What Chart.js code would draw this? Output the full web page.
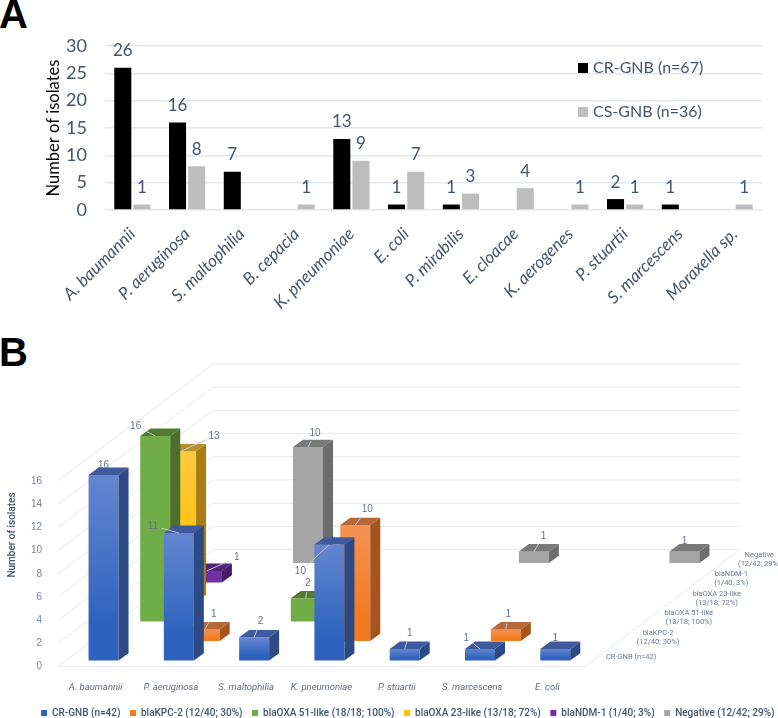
<!DOCTYPE html>
<html>
<head>
<meta charset="utf-8">
<script src="https://cdn.jsdelivr.net/npm/chart.js@4"></script>
<style>
    html, body { margin: 0; padding: 0; background: #fff; }
    body { position: relative; width: 778px; height: 718px; overflow: hidden; }
    canvas { position: absolute; left: 0; }
    .panel { position: absolute; font: bold 40px "Liberation Sans", sans-serif; color: #000; line-height: 40px; }
</style>
</head>
<body>
<div class="panel" style="left:-1px;top:-6px">A</div>
<div class="panel" style="left:-1px;top:332px">B</div>
<canvas id="chartA" width="778" height="335" style="top:0"></canvas>
<canvas id="chartB" width="784" height="393" style="top:335px"></canvas>
<script>
const speciesA = ['A. baumannii', 'P. aeruginosa', 'S. maltophilia', 'B. cepacia', 'K. pneumoniae', 'E. coli',
    'P. mirabilis', 'E. cloacae', 'K. aerogenes', 'P. stuartii', 'S. marcescens', 'Moraxella sp.'];
const crGnbA = [26, 16, 7, null, 13, 1, 1, null, null, 2, 1, null];
const csGnbA = [1, 8, null, 1, 9, 7, 3, 4, 1, 1, null, 1];

const speciesB = ['A. baumannii', 'P. aeruginosa', 'S. maltophilia', 'K. pneumoniae', 'P. stuartii', 'S. marcescens', 'E. coli'];
const crGnbB = [16, 11, 2, 10, 1, 1, 1];
const kpc2 = [null, 1, null, 10, null, 1, null];
const oxa51 = [16, null, 2, null, null, null, null];
const oxa23 = [13, null, null, null, null, null, null];
const ndm1 = [1, null, null, null, null, null, null];
const negative = [null, 10, null, null, 1, null, 1];

const legendB = ['CR-GNB (n=42)', 'blaKPC-2 (12/40; 30%)', 'blaOXA 51-like (18/18; 100%)',
    'blaOXA 23-like (13/18; 72%)', 'blaNDM-1 (1/40; 3%)', 'Negative (12/42; 29%)'];
const depthLabels = [['CR-GNB (n=42)'], ['blaKPC-2', '(12/40; 30%)'], ['blaOXA 51-like', '(18/18; 100%)'],
    ['blaOXA 23-like', '(13/18; 72%)'], ['blaNDM-1', '(1/40; 3%)'], ['Negative', '(12/42; 29%)']];

const slate = '#44546A';

// front top, front bottom, side, roof
const prismColors = [
    ['#6486CE', '#2D63BE', '#2E4A85', '#3F5A9C'],
    ['#F49355', '#F37A1F', '#A4541C', '#B5693B'],
    ['#70AD47', '#70AD47', '#4B6F2D', '#537A31'],
    ['#FFC940', '#FFC000', '#A67E14', '#B8902C'],
    ['#7030A0', '#7030A0', '#451C66', '#54237A'],
    ['#A5A5A5', '#A5A5A5', '#6C6C6C', '#797979'],
];

// floor depth of the 3d box and depth of one bar
const floorX = 155, floorY = 117, barDepthX = 10, barDepthY = 7.3;
// gap between the floor's edge and each depth label
const depthLabelGaps = [8, 13, 15, 17, 13, 11];

// where a value label sits from the middle of its bar's front top edge: dx, dy, leader line
const labelOffsets = {
    '0:0': [0, -10, 0], '0:1': [-26, -7, 1], '0:2': [6.5, -16, 1], '0:3': [-29, 27, 1],
    '0:4': [5, -16, 1], '0:5': [-13.7, -11, 1], '0:6': [0, -11, 0],
    '1:1': [9, -15, 1], '1:3': [12, -16, 1], '1:5': [2.5, -15, 1],
    '2:0': [-19.6, -10, 1], '2:2': [2, -15, 1],
    '3:0': [33, -15, 1],
    '4:0': [30, -13.5, 1],
    '5:1': [7, -14, 1], '5:4': [9.7, -15, 1], '5:6': [0, -10, 0],
};

const valueLabelsA = {
    id: 'valueLabelsA',
    afterDatasetsDraw(chart) {
        const ctx = chart.ctx;
        ctx.save();
        ctx.font = '17px Lato';
        ctx.fillStyle = slate;
        ctx.textAlign = 'center';
        ctx.textBaseline = 'middle';
        chart.data.datasets.forEach((dataset, i) => {
            chart.getDatasetMeta(i).data.forEach((bar, j) => {
                if (dataset.data[j] === null) return;
                ctx.fillText(dataset.data[j], bar.x, bar.y - 17);
            });
        });
        ctx.restore();
    }
};

const legendA = {
    id: 'legendA',
    afterDraw(chart) {
        const ctx = chart.ctx;
        ctx.save();
        ctx.font = '16px Lato';
        ctx.textBaseline = 'middle';
        chart.data.datasets.forEach((dataset, i) => {
            const y = 68 + i * 44;
            ctx.fillStyle = dataset.backgroundColor;
            ctx.fillRect(578, y - 5, 10, 10);
            ctx.fillStyle = slate;
            ctx.fillText(dataset.label, 593, y);
        });
        ctx.restore();
    }
};

function drawWalls(chart, ctx) {
    const area = chart.chartArea;
    const yScale = chart.scales.y;
    ctx.strokeStyle = '#E6E9EF';
    ctx.lineWidth = 1;
    yScale.ticks.forEach(tick => {
        const y = yScale.getPixelForValue(tick.value);
        ctx.beginPath();
        ctx.moveTo(area.left, y);
        ctx.lineTo(area.left + floorX, y - floorY);
        ctx.lineTo(area.right + floorX, y - floorY);
        ctx.stroke();
    });
    const y0 = yScale.getPixelForValue(0);
    ctx.beginPath();
    ctx.moveTo(area.left, y0);
    ctx.lineTo(area.right, y0);
    ctx.lineTo(area.right + floorX, y0 - floorY);
    ctx.stroke();
}

function drawPrism(ctx, x, top, width, bottom, colors) {
    const front = ctx.createLinearGradient(0, top, 0, bottom);
    front.addColorStop(0, colors[0]);
    front.addColorStop(0.8, colors[1]);
    ctx.fillStyle = front;
    ctx.fillRect(x, top, width, bottom - top);

    ctx.fillStyle = colors[2];
    ctx.beginPath();
    ctx.moveTo(x + width, top);
    ctx.lineTo(x + width + barDepthX, top - barDepthY);
    ctx.lineTo(x + width + barDepthX, bottom - barDepthY);
    ctx.lineTo(x + width, bottom);
    ctx.closePath();
    ctx.fill();

    ctx.fillStyle = colors[3];
    ctx.beginPath();
    ctx.moveTo(x, top);
    ctx.lineTo(x + barDepthX, top - barDepthY);
    ctx.lineTo(x + width + barDepthX, top - barDepthY);
    ctx.lineTo(x + width, top);
    ctx.closePath();
    ctx.fill();
}

function depthOffset(i) {
    const count = depthLabels.length;
    const stepX = floorX / count, stepY = floorY / count;
    return {
        x: stepX * i + (stepX - barDepthX) / 2,
        y: stepY * i + (stepY - barDepthY) / 2,
    };
}

function drawValueLabel(ctx, value, x, y, offset) {
    const textX = x + offset[0], textY = y + offset[1];
    if (offset[2]) {
        const len = Math.hypot(offset[0], offset[1]);
        ctx.strokeStyle = '#C6CBD3';
        ctx.lineWidth = 1;
        ctx.beginPath();
        ctx.moveTo(x, y);
        ctx.lineTo(textX - offset[0] / len * 9, textY - offset[1] / len * 9);
        ctx.stroke();
    }
    ctx.fillStyle = '#65748A';
    ctx.font = '10px "Liberation Sans"';
    ctx.textAlign = 'center';
    ctx.textBaseline = 'middle';
    ctx.fillText(value, textX, textY);
}

const prisms = {
    id: 'prisms',
    beforeDatasetsDraw(chart) {
        const ctx = chart.ctx;
        ctx.save();
        drawWalls(chart, ctx);
        const datasets = chart.data.datasets;
        for (let i = datasets.length - 1; i >= 0; i--) {
            const off = depthOffset(i);
            chart.getDatasetMeta(i).data.forEach((bar, j) => {
                if (datasets[i].data[j] === null) return;
                drawPrism(ctx, bar.x - bar.width / 2 + off.x, bar.y - off.y, bar.width, bar.base - off.y, prismColors[i]);
            });
        }
        datasets.forEach((dataset, i) => {
            const off = depthOffset(i);
            chart.getDatasetMeta(i).data.forEach((bar, j) => {
                if (dataset.data[j] === null) return;
                drawValueLabel(ctx, dataset.data[j], bar.x + off.x, bar.y - off.y, labelOffsets[i + ':' + j]);
            });
        });
        ctx.restore();
        return false;
    },
    afterDraw(chart) {
        const ctx = chart.ctx;
        const area = chart.chartArea;
        const y0 = chart.scales.y.getPixelForValue(0);
        ctx.save();
        ctx.fillStyle = '#6B7A8F';
        ctx.font = '7.5px Roboto';
        ctx.textAlign = 'center';
        ctx.textBaseline = 'middle';
        depthLabels.forEach((lines, i) => {
            const stepX = floorX / depthLabels.length, stepY = floorY / depthLabels.length;
            const width = Math.max(...lines.map(line => ctx.measureText(line).width));
            const x = area.right + stepX * (i + 0.5) + depthLabelGaps[i] + width / 2;
            const y = y0 - stepY * (i + 0.5);
            lines.forEach((line, k) => {
                ctx.fillText(line, x, y + (k - (lines.length - 1) / 2) * 9);
            });
        });
        ctx.translate(12, 200);
        ctx.rotate(-Math.PI / 2);
        ctx.fillStyle = slate;
        ctx.font = '500 10px Roboto';
        ctx.fillText('Number of isolates', 0, 0);
        ctx.restore();
    }
};

new Chart(document.getElementById('chartA').getContext('2d'), {
    type: 'bar',
    data: {
        labels: speciesA,
        datasets: [
            { label: 'CR-GNB (n=67)', data: crGnbA, backgroundColor: '#000000' },
            { label: 'CS-GNB (n=36)', data: csGnbA, backgroundColor: '#BDBDBD' },
        ]
    },
    options: {
        responsive: false,
        animation: false,
        categoryPercentage: 0.7,
        barPercentage: 0.89,
        layout: { padding: { left: 44, right: 16, top: 46, bottom: 0 } },
        plugins: {
            legend: { display: false },
            tooltip: { enabled: false },
        },
        scales: {
            x: {
                grid: { display: false },
                border: { display: false },
                ticks: {
                    autoSkip: false,
                    minRotation: 45,
                    maxRotation: 45,
                    padding: 6,
                    color: slate,
                    font: { family: 'Lato', size: 17, style: 'italic' },
                },
                afterFit(scale) { scale.height = 125; },
            },
            y: {
                min: 0,
                max: 30,
                grid: { color: '#E3E7EE', lineWidth: 1.5, drawTicks: false },
                border: { display: false },
                ticks: {
                    stepSize: 5,
                    padding: 18,
                    color: slate,
                    font: { family: 'Lato', size: 18 },
                },
                title: {
                    display: true,
                    text: 'Number of isolates',
                    color: '#000',
                    padding: 0,
                    font: { family: 'Lato', size: 16.5 },
                },
                afterFit(scale) { scale.width = 61; },
            },
        },
    },
    plugins: [valueLabelsA, legendA],
});

const seriesB = [crGnbB, kpc2, oxa51, oxa23, ndm1, negative];
new Chart(document.getElementById('chartB').getContext('2d'), {
    type: 'bar',
    data: {
        labels: speciesB,
        datasets: seriesB.map((values, i) => ({
            label: legendB[i],
            data: values,
            backgroundColor: prismColors[i][1],
            grouped: false,
            barThickness: 30,
        }))
    },
    options: {
        responsive: false,
        animation: false,
        layout: { padding: { left: 0, right: 0, top: 146, bottom: 0 } },
        plugins: {
            tooltip: { enabled: false },
            legend: {
                position: 'bottom',
                align: 'end',
                labels: {
                    boxWidth: 6,
                    boxHeight: 6,
                    padding: 9.5,
                    color: slate,
                    font: { family: 'Roboto', size: 10, weight: '500' },
                },
            },
        },
        scales: {
            x: {
                grid: { display: false },
                border: { display: false },
                ticks: {
                    autoSkip: false,
                    maxRotation: 0,
                    padding: 7,
                    color: '#5D6C82',
                    font: { family: 'Roboto', size: 9.5, style: 'italic' },
                },
                afterFit(scale) { scale.height = 31.9; },
            },
            y: {
                min: 0,
                max: 16,
                grid: { display: false },
                border: { display: false },
                ticks: {
                    stepSize: 2,
                    padding: 8,
                    color: '#7A879A',
                    font: { family: 'Liberation Sans', size: 10 },
                },
                afterFit(scale) { scale.width = 58; },
            },
            // empty axis, holds the room the floor's depth runs into
            depthRoom: {
                position: 'right',
                grid: { display: false },
                border: { display: false },
                ticks: { display: false },
                afterFit(scale) { scale.width = 199; },
            },
        },
    },
    plugins: [prisms],
});
</script>
</body>
</html>
